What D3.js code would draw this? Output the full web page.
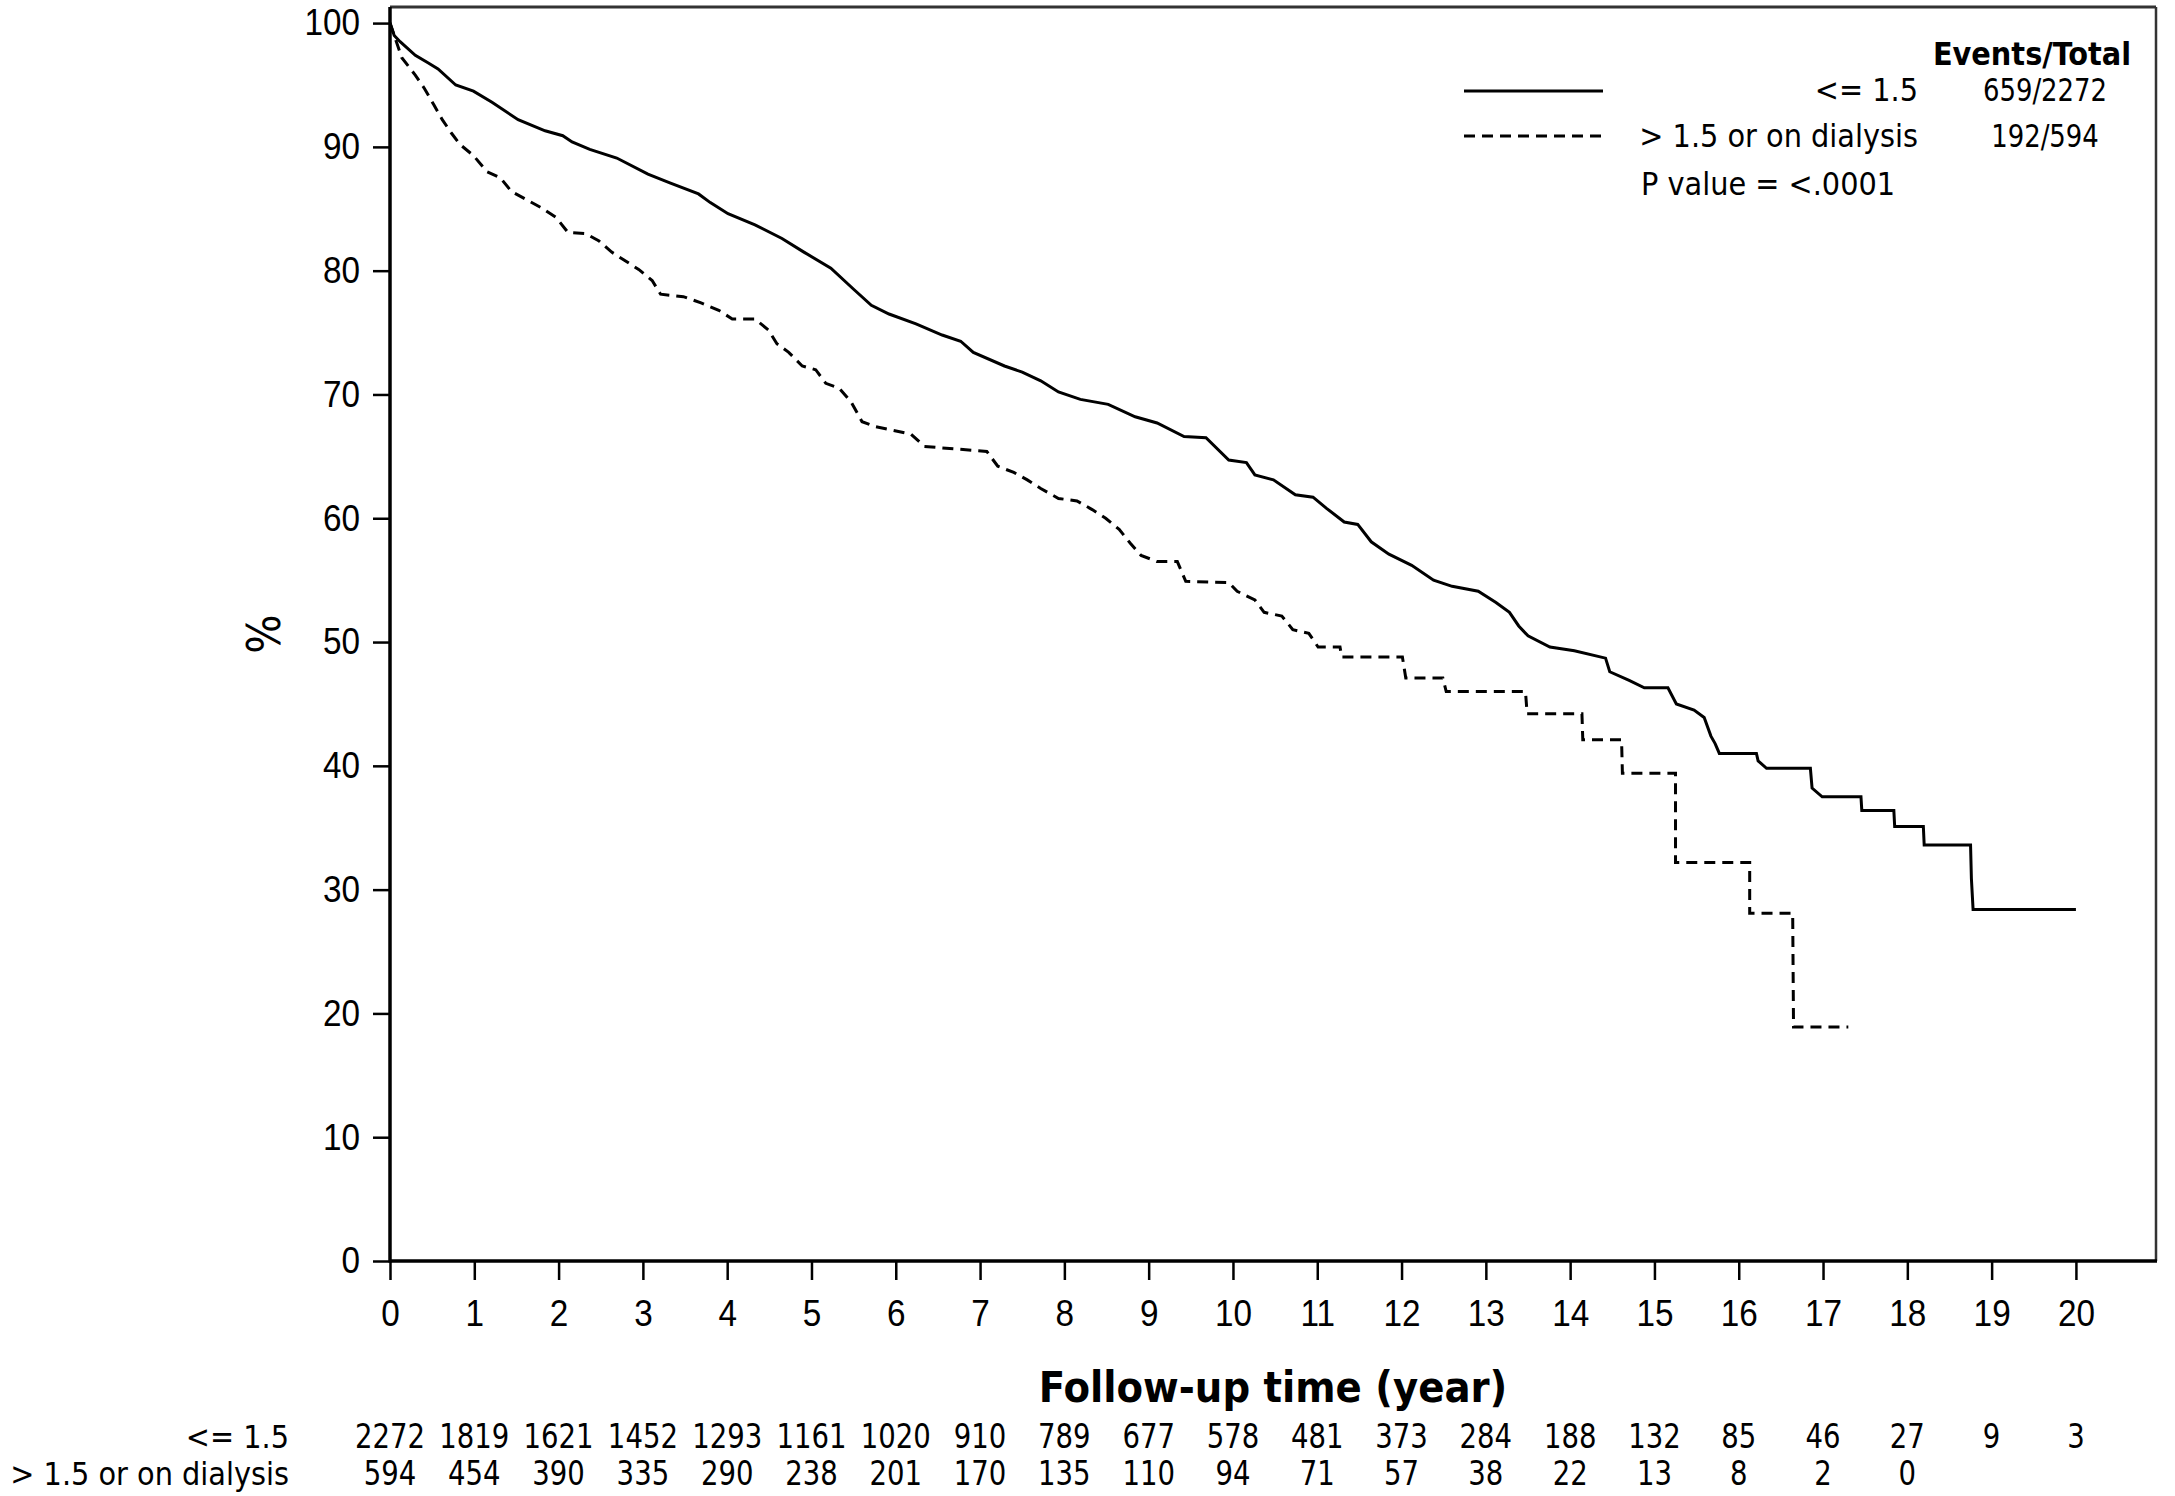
<!DOCTYPE html>
<html>
<head>
<meta charset="utf-8">
<script src="https://cdn.jsdelivr.net/npm/d3@7"></script>
<style>
  body { margin: 0; background: #fff; }
  svg { display: block; font-family: "DejaVu Sans", sans-serif; font-stretch: condensed; }
  /* the source font has narrower digits than DejaVu */
  .num { transform-box: fill-box; transform: scaleX(0.9); }
  .num.end { transform-origin: 100% 50%; }
  .num.middle { transform-origin: 50% 50%; }
</style>
</head>
<body>
<svg width="2175" height="1496"></svg>
<script>
// Data

// curve vertices [year, percent]
const lowCreat = [
  [0, 100], [0.05, 99.0], [0.12, 98.5], [0.30, 97.4], [0.45, 96.8], [0.57, 96.3],
  [0.78, 95.0], [0.99, 94.5], [1.21, 93.6], [1.52, 92.2], [1.84, 91.3], [2.05, 90.9],
  [2.16, 90.4], [2.37, 89.8], [2.69, 89.1], [3.06, 87.8], [3.32, 87.1], [3.66, 86.2],
  [3.80, 85.5], [4.01, 84.6], [4.33, 83.7], [4.65, 82.6], [4.91, 81.5], [5.23, 80.2],
  [5.50, 78.5], [5.71, 77.2], [5.92, 76.5], [6.24, 75.7], [6.55, 74.8], [6.77, 74.3],
  [6.92, 73.4], [7.29, 72.3], [7.50, 71.8], [7.72, 71.1], [7.93, 70.2], [8.19, 69.6],
  [8.52, 69.2], [8.84, 68.2], [9.10, 67.7], [9.42, 66.6], [9.68, 66.5], [9.95, 64.7],
  [10.16, 64.5], [10.26, 63.5], [10.48, 63.1], [10.74, 61.9], [10.95, 61.7], [11.11, 60.8],
  [11.32, 59.7], [11.48, 59.5], [11.64, 58.1], [11.85, 57.1], [12.12, 56.2], [12.38, 55.0],
  [12.60, 54.5], [12.91, 54.1], [13.12, 53.2], [13.28, 52.4], [13.39, 51.3], [13.50, 50.5],
  [13.76, 49.6], [14.05, 49.3], [14.42, 48.7], [14.47, 47.6], [14.70, 46.9], [14.88, 46.3],
  [15.16, 46.3], [15.26, 45.0], [15.47, 44.5], [15.59, 43.9], [15.67, 42.4], [15.72, 41.8],
  [15.77, 41.0], [16.21, 41.0], [16.23, 40.4], [16.33, 39.8], [16.85, 39.8], [16.87, 38.2],
  [16.99, 37.5], [17.45, 37.5], [17.46, 36.4], [17.84, 36.4], [17.85, 35.1], [18.19, 35.1],
  [18.20, 33.6], [18.75, 33.6], [18.76, 30.9], [18.78, 28.4], [20.0, 28.4]
];

const highCreat = [
  [0, 100], [0.14, 97.2], [0.30, 95.8], [0.41, 94.7], [0.52, 93.4], [0.62, 92.2],
  [0.73, 91.1], [0.83, 90.2], [0.99, 89.3], [1.15, 88.0], [1.31, 87.5], [1.44, 86.4],
  [1.63, 85.7], [1.79, 85.1], [1.97, 84.3], [2.11, 83.1], [2.32, 83.0], [2.48, 82.4],
  [2.63, 81.5], [2.79, 80.8], [2.95, 80.1], [3.11, 79.2], [3.21, 78.1], [3.48, 77.9],
  [3.69, 77.4], [3.90, 76.8], [4.06, 76.1], [4.33, 76.1], [4.49, 75.2], [4.59, 74.1],
  [4.73, 73.4], [4.89, 72.3], [5.05, 72.0], [5.17, 70.9], [5.33, 70.5], [5.47, 69.4],
  [5.60, 67.8], [5.76, 67.4], [6.18, 66.8], [6.34, 65.8], [7.08, 65.4], [7.21, 64.2],
  [7.40, 63.7], [7.56, 63.1], [7.72, 62.4], [7.93, 61.6], [8.15, 61.4], [8.33, 60.7],
  [8.49, 60.0], [8.65, 59.1], [8.78, 58.0], [8.91, 57.0], [9.10, 56.5], [9.34, 56.5],
  [9.44, 54.9], [9.95, 54.8], [10.05, 54.1], [10.26, 53.4], [10.37, 52.4], [10.58, 52.1],
  [10.71, 51.0], [10.90, 50.7], [11.01, 49.6], [11.27, 49.6], [11.29, 48.8], [12.01, 48.8],
  [12.05, 47.1], [12.49, 47.1], [12.53, 46.0], [13.47, 46.0], [13.49, 44.2], [14.14, 44.2],
  [14.15, 42.1], [14.61, 42.1], [14.62, 39.4], [15.25, 39.4], [15.25, 32.2], [16.13, 32.2],
  [16.13, 28.1], [16.64, 28.1], [16.65, 18.9], [17.3, 18.9]
];

const groups = ["<= 1.5", "> 1.5 or on dialysis"];
const eventsTotal = ["659/2272", "192/594"];
const pValueText = "P value = <.0001";

const xTicks = d3.range(0, 21);
const yTicks = d3.range(0, 101, 10);

// numbers at risk, one per x tick
const atRiskLow = [2272, 1819, 1621, 1452, 1293, 1161, 1020, 910, 789, 677, 578,
                   481, 373, 284, 188, 132, 85, 46, 27, 9, 3];
const atRiskHigh = [594, 454, 390, 335, 290, 238, 201, 170, 135, 110, 94,
                    71, 57, 38, 22, 13, 8, 2, 0];

// Layout

const plot = { left: 390, right: 2156, top: 7, bottom: 1261 };

const svg = d3.select("svg");

const x = d3.scaleLinear().domain([0, 20.95]).range([plot.left, plot.right]);
const y = d3.scaleLinear().domain([0, 101.3]).range([plot.bottom, plot.top]);

// frame
svg.append("line").attr("x1", plot.left).attr("x2", plot.right)
    .attr("y1", plot.top).attr("y2", plot.top)
    .attr("stroke", "#333").attr("stroke-width", 3);
svg.append("line").attr("x1", plot.right).attr("x2", plot.right)
    .attr("y1", plot.top).attr("y2", plot.bottom)
    .attr("stroke", "#333").attr("stroke-width", 2.5);

// axes
const yAxis = svg.append("g")
    .attr("transform", `translate(${plot.left},0)`)
    .call(d3.axisLeft(y).tickValues(yTicks).tickSize(17).tickPadding(13));

const xAxis = svg.append("g")
    .attr("transform", `translate(0,${plot.bottom})`)
    .call(d3.axisBottom(x).tickValues(xTicks).tickSize(19).tickPadding(20));

[xAxis, yAxis].forEach(g => {
    g.select(".domain").remove();
    g.selectAll(".tick line").attr("stroke", "#000").attr("stroke-width", 2.5);
    g.selectAll(".tick text").attr("fill", "#000")
        .style("font-size", "37px").style("font-family", null);
});
yAxis.selectAll(".tick text").attr("class", "num end");
xAxis.selectAll(".tick text").attr("class", "num middle");

svg.append("line").attr("x1", plot.left).attr("x2", plot.left)
    .attr("y1", plot.top).attr("y2", plot.bottom + 1.5)
    .attr("stroke", "#000").attr("stroke-width", 3.5);
svg.append("line").attr("x1", plot.left).attr("x2", plot.right + 1)
    .attr("y1", plot.bottom).attr("y2", plot.bottom)
    .attr("stroke", "#000").attr("stroke-width", 3.5);

// axis titles
svg.append("text")
    .attr("x", (plot.left + plot.right) / 2).attr("y", 1402)
    .attr("text-anchor", "middle")
    .style("font-size", "43px").style("font-weight", "bold")
    .text("Follow-up time (year)");

svg.append("text")
    .attr("transform", `translate(280,${(plot.top + plot.bottom) / 2}) rotate(-90)`)
    .attr("text-anchor", "middle")
    .style("font-size", "46px")
    .text("%");

// curves
const line = d3.line()
    .x(d => x(d[0]))
    .y(d => y(d[1]));

svg.append("path")
    .datum(lowCreat)
    .attr("d", line)
    .attr("fill", "none")
    .attr("stroke", "#000")
    .attr("stroke-width", 3);

svg.append("path")
    .datum(highCreat)
    .attr("d", line)
    .attr("fill", "none")
    .attr("stroke", "#000")
    .attr("stroke-width", 3)
    .attr("stroke-dasharray", "11,7");

// legend
const legend = svg.append("g").style("font-size", "32px");

legend.append("text")
    .attr("x", 2131).attr("y", 65)
    .attr("text-anchor", "end")
    .style("font-weight", "bold")
    .text("Events/Total");

const rowY = [101, 147];
const sampleY = [91, 136];
const dashes = [null, "11,7"];

groups.forEach((g, i) => {
    legend.append("line")
        .attr("x1", 1464).attr("x2", 1603)
        .attr("y1", sampleY[i]).attr("y2", sampleY[i])
        .attr("stroke", "#000").attr("stroke-width", 3)
        .attr("stroke-dasharray", dashes[i]);
    legend.append("text")
        .attr("x", 1918).attr("y", rowY[i])
        .attr("text-anchor", "end")
        .text(g);
    legend.append("text")
        .attr("class", "num middle")
        .attr("x", 2045).attr("y", rowY[i])
        .attr("text-anchor", "middle")
        .text(eventsTotal[i]);
});

legend.append("text")
    .attr("x", 1641).attr("y", 195)
    .text(pValueText);

// numbers at risk
const riskRows = [atRiskLow, atRiskHigh];
const riskY = [1448, 1485];

riskRows.forEach((row, i) => {
    const g = svg.append("g").style("font-size", "34px");
    g.append("text")
        .attr("x", 289).attr("y", riskY[i])
        .attr("text-anchor", "end")
        .style("font-size", "32px")
        .text(groups[i]);
    g.selectAll("text.num")
        .data(row)
        .enter().append("text")
        .attr("class", "num middle")
        .attr("x", (d, j) => x(xTicks[j]))
        .attr("y", riskY[i])
        .attr("text-anchor", "middle")
        .text(d => d);
});
</script>
</body>
</html>
